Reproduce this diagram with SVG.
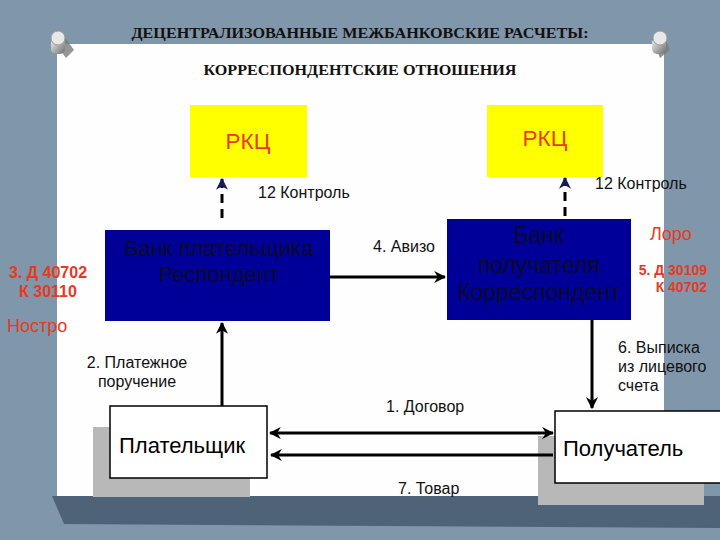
<svg xmlns="http://www.w3.org/2000/svg" width="720" height="540" viewBox="0 0 720 540">
<style>
.lbl{font-family:"Liberation Sans",Arial,sans-serif;font-size:16px;fill:#111}
.red{font-family:"Liberation Sans",Arial,sans-serif;fill:#e8391e}
.redb{font-family:"Liberation Sans",Arial,sans-serif;fill:#e8391e;font-weight:bold;font-size:16px}
.redb2{font-family:"Liberation Sans",Arial,sans-serif;fill:#e8391e;font-weight:bold;font-size:14px}
.title{font-family:"Liberation Serif","Times New Roman",serif;font-weight:bold;font-size:14px;fill:#111}
.bank{fill:#000099}
.banktxt{font-family:"Liberation Sans",Arial,sans-serif;font-size:22px;fill:#0a0a2a}
.banktxt2{font-family:"Liberation Sans",Arial,sans-serif;font-size:23px;fill:#0a0a2a}
.ylw{fill:#ffff00}
.party{fill:#ffffff;stroke:#000;stroke-width:1.5}
.shadow{fill:#b8b8b8}
.ptxt{font-family:"Liberation Sans",Arial,sans-serif;font-size:22px;fill:#000}
.ln{stroke:#000;stroke-width:3;fill:none}
.dash{stroke:#000;stroke-width:3;fill:none;stroke-dasharray:9 6}
</style>
<defs>
<marker id="ah" viewBox="0 0 10 10" refX="9" refY="5" markerWidth="4" markerHeight="4" orient="auto-start-reverse" markerUnits="strokeWidth">
<path d="M0,0 L10,5 L0,10 L3,5 z" fill="#000"/>
</marker>
<marker id="ahn" viewBox="0 0 10 10" refX="9" refY="5" markerWidth="4" markerHeight="4" orient="auto" markerUnits="strokeWidth">
<path d="M0,0 L10,5 L0,10 L3,5 z" fill="#1a1a5a"/>
</marker>
<linearGradient id="pin" x1="0" y1="0" x2="1" y2="1">
<stop offset="0" stop-color="#f4f4f4"/>
<stop offset="1" stop-color="#6c6c6c"/>
</linearGradient>
</defs>
<g id="background">
<rect x="0" y="0" width="720" height="540" fill="#8096aa"/>
<polygon points="52,496 720,496 720,528 64,524" fill="#4f6378"/>
<rect x="57" y="44" width="607" height="452" fill="#fefefe"/>
<g id="pin-left">
<path d="M52,39 L64,36 L74,50 L66,58 Z" fill="#7a7a7a" opacity="0.8"/>
<rect x="51" y="38" width="14" height="16" rx="5" fill="url(#pin)"/>
<ellipse cx="58" cy="38" rx="7" ry="7" fill="#e8e8e8" stroke="#9a9a9a" stroke-width="1"/>
</g>
<g id="pin-right">
<path d="M652,39 L664,36 L670,50 L660,58 Z" fill="#7a7a7a" opacity="0.8"/>
<rect x="652" y="38" width="14" height="16" rx="5" fill="url(#pin)"/>
<ellipse cx="660" cy="38" rx="7" ry="7" fill="#e8e8e8" stroke="#9a9a9a" stroke-width="1"/>
</g>
</g>
<g id="titles">
<text class="title" x="360" y="38" text-anchor="middle" textLength="457" lengthAdjust="spacingAndGlyphs">ДЕЦЕНТРАЛИЗОВАННЫЕ МЕЖБАНКОВСКИЕ РАСЧЕТЫ:</text>
<text class="title" x="360" y="75" text-anchor="middle" textLength="313" lengthAdjust="spacingAndGlyphs">КОРРЕСПОНДЕНТСКИЕ ОТНОШЕНИЯ</text>
</g>
<g id="rkc-left">
<rect class="ylw" x="190" y="105" width="117" height="72"/>
<text class="red" x="248" y="149" font-size="22.5" text-anchor="middle">РКЦ</text>
</g>
<g id="rkc-right">
<rect class="ylw" x="487" y="105" width="116" height="72"/>
<text class="red" x="545" y="146" font-size="22.5" text-anchor="middle">РКЦ</text>
</g>
<g id="bank-payer">
<rect class="bank" x="105" y="230" width="225" height="91"/>
<text class="banktxt" x="219" y="256" text-anchor="middle">Банк плательщика</text>
<text class="banktxt" x="219" y="282" text-anchor="middle">Респондент</text>
</g>
<g id="bank-payee">
<rect class="bank" x="447" y="219" width="184" height="101"/>
<text class="banktxt2" x="539" y="243" text-anchor="middle">Банк</text>
<text class="banktxt2" x="539" y="273" text-anchor="middle">получателя</text>
<text class="banktxt2" x="539" y="300" text-anchor="middle">Корреспондент</text>
</g>
<g id="payer">
<rect class="shadow" x="93" y="427" width="157" height="70"/>
<rect class="party" x="110" y="406" width="157" height="72"/>
<text class="ptxt" x="119" y="453">Плательщик</text>
</g>
<g id="payee">
<rect class="shadow" x="538" y="436" width="166" height="69"/>
<rect class="party" x="555" y="411" width="170" height="72"/>
<text class="ptxt" x="563" y="456">Получатель</text>
</g>
<g id="connectors">
<line class="dash" x1="222" y1="218" x2="222" y2="179" marker-end="url(#ahn)"/>
<line class="dash" x1="565" y1="216" x2="565" y2="178" marker-end="url(#ahn)"/>
<line class="ln" x1="330" y1="277" x2="445" y2="277" marker-end="url(#ah)"/>
<line class="ln" x1="222" y1="406" x2="222" y2="323" marker-end="url(#ah)"/>
<line class="ln" x1="592" y1="320" x2="592" y2="408" marker-end="url(#ah)"/>
<line class="ln" x1="270" y1="433" x2="553" y2="433" marker-start="url(#ah)" marker-end="url(#ah)"/>
<line class="ln" x1="271" y1="455" x2="553" y2="455" marker-start="url(#ah)"/>
</g>
<g id="labels">
<text class="lbl" x="258" y="198">12 Контроль</text>
<text class="lbl" x="595" y="189">12 Контроль</text>
<text class="lbl" x="373" y="252">4. Авизо</text>
<text class="lbl" x="137" y="368" text-anchor="middle">2. Платежное</text>
<text class="lbl" x="137" y="387" text-anchor="middle">поручение</text>
<text class="lbl" x="618" y="353">6. Выписка</text>
<text class="lbl" x="618" y="372">из лицевого</text>
<text class="lbl" x="618" y="391">счета</text>
<text class="lbl" x="386" y="412">1. Договор</text>
<text class="lbl" x="398" y="494">7. Товар</text>
<text class="redb" x="48" y="278" text-anchor="middle">3. Д 40702</text>
<text class="redb" x="48" y="297" text-anchor="middle">К 30110</text>
<text class="red" x="7" y="332" font-size="18">Ностро</text>
<text class="red" x="650" y="240" font-size="18">Лоро</text>
<text class="redb2" x="707" y="275" text-anchor="end">5. Д 30109</text>
<text class="redb2" x="707" y="292" text-anchor="end">К 40702</text>
</g>
</svg>
